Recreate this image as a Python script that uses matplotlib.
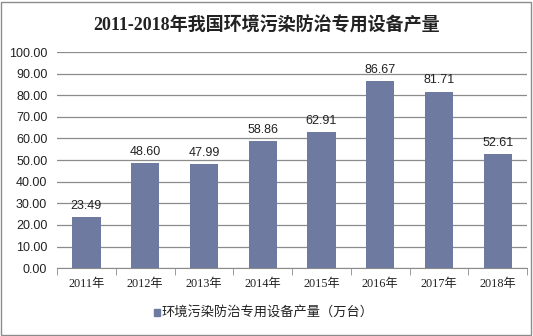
import matplotlib.pyplot as plt
from matplotlib.patches import Rectangle

plt.rcParams['font.family'] = ['Noto Sans CJK SC', 'DejaVu Sans']

years = ['2011年', '2012年', '2013年', '2014年', '2015年', '2016年', '2017年', '2018年']
output = [23.49, 48.60, 47.99, 58.86, 62.91, 86.67, 81.71, 52.61]
bar_color = '#6f7aa1'
num_font = 'Liberation Sans'

fig = plt.figure(figsize=(5.33, 3.36), dpi=100)
ax = fig.add_axes([0.107, 0.202, 0.882, 0.643])

x = range(len(years))
ax.bar(x, output, width=0.48, color=bar_color, zorder=3)
for i, v in enumerate(output):
    ax.text(i, v + 2.4, '%.2f' % v, ha='center', va='bottom', fontsize=9,
            family=num_font, color='#222222')

ax.set_ylim(0, 100)
ax.set_xlim(-0.5, len(years) - 0.5)
ax.set_yticks(range(0, 101, 10))
ax.set_yticklabels(['%.2f' % t for t in range(0, 101, 10)], fontsize=9,
                   family=num_font, color='#222222')
ax.yaxis.grid(True, color='#8c8c8c', linewidth=0.9, zorder=0)
ax.tick_params(axis='y', length=0, pad=7)

ax.set_xticks(list(x))
ax.set_xticklabels(years, fontsize=8.8, family=['Liberation Serif', 'Noto Sans CJK SC'],
                   color='#222222')
ax.set_xticks([i - 0.5 for i in range(len(years) + 1)], minor=True)
ax.tick_params(axis='x', which='major', length=0, pad=7)
ax.tick_params(axis='x', which='minor', length=5, color='#8c8c8c', direction='out')

for s in ['top', 'right', 'left']:
    ax.spines[s].set_visible(False)
ax.spines['bottom'].set_color('#8c8c8c')

fig.text(0.5, 0.925, '2011-2018年我国环境污染防治专用设备产量', ha='center',
         va='center', fontsize=13, fontweight='bold', color='#222222',
         family=['Liberation Serif', 'Noto Sans CJK SC'])

# legend
fig.patches.append(Rectangle((0.289, 0.059), 0.011, 0.02, transform=fig.transFigure,
                             color=bar_color))
fig.text(0.303, 0.069, '环境污染防治专用设备产量（万台）', ha='left', va='center',
         fontsize=9.5, color='#222222')

fig.patches.append(Rectangle((0.002, 0.003), 0.994, 0.992, transform=fig.transFigure,
                             fill=False, edgecolor='#8c8c8c', linewidth=1))

fig.savefig('out.png', dpi=100)
